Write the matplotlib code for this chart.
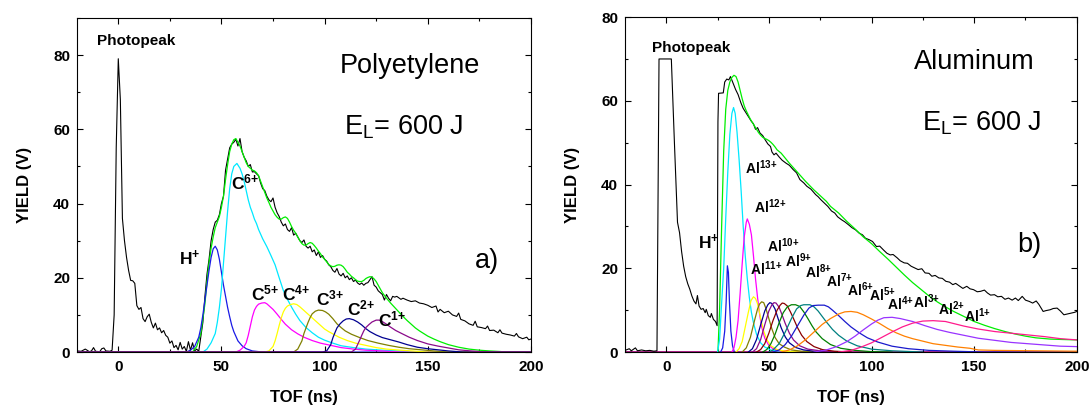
import matplotlib
matplotlib.use('Agg')
import matplotlib.pyplot as plt
from matplotlib.ticker import MultipleLocator

plt.rcParams['font.family'] = ['Liberation Sans', 'DejaVu Sans']
plt.rcParams['mathtext.fontset'] = 'custom'
plt.rcParams['mathtext.rm'] = 'Liberation Sans'
plt.rcParams['mathtext.bf'] = 'Liberation Sans:bold'
plt.rcParams['mathtext.it'] = 'Liberation Sans:italic'

# ---------------- panel a) polyetylene : (TOF ns, yield V)
poly_exp = [(-20, 0.3), (-18, 0.2), (-16, 0.8), (-14, 0.1), (-13, 0.3), (-12, 1.2), (-11, 0.2), (-9, 0.1),
            (-8, 0.9), (-7, 1.1), (-6, 0.3), (-4, 0.2), (-3, 0.5), (-2, 10), (-1, 55), (0, 79), (1, 68),
            (2, 36), (3, 30), (4, 25.5), (5, 22), (6, 19.3), (7, 19.2), (8, 18.5), (9, 12.5), (10, 11.5),
            (11, 12), (12, 9), (13, 8.2), (14, 9.5), (15, 10.2), (16, 8), (17, 6.5), (18, 7.8), (19, 6),
            (20, 6.5), (21, 5.2), (22, 5.8), (23, 4.5), (24, 4), (25, 2.4), (26, 3), (27, 1.2), (28, 1.8),
            (29, 0.6), (30, 2.6), (31, 0.8), (32, 1.5), (33, 0.2), (34, 2.8), (35, 0.5), (36, 2.5), (37, 0.3),
            (38, 0.8), (39, 0.2), (40, 4), (41, 8), (42, 15), (43, 21), (44, 25), (45, 30), (46, 33), (47, 35),
            (48, 35.5), (49, 37), (50, 40), (51, 42), (52, 49), (53, 52), (54, 55), (55, 56), (56, 56.5),
            (57, 57.3), (58, 55.5), (59, 57.5), (60, 54), (61, 52.5), (62, 51.5), (63, 50), (64, 50.5),
            (65, 48.5), (66, 48.6), (67, 48), (68, 47.5), (69, 45.5), (70, 44), (71, 43.5), (72, 42), (73, 41),
            (74, 40.5), (75, 41.5), (76, 39), (77, 37.5), (78, 36.5), (79, 35), (80, 34), (81, 34.5), (82, 33),
            (83, 32.5), (84, 33.5), (85, 31.5), (86, 32), (87, 31), (88, 30), (89, 29.5), (90, 30.2), (91, 28.5),
            (92, 28), (93, 28.5), (94, 27), (95, 27.5), (96, 26), (97, 27), (98, 25.5), (99, 26), (100, 25),
            (101, 24.5), (102, 23.5), (103, 23), (104, 22), (105, 21.5), (106, 22.5), (107, 21), (108, 20.5),
            (109, 21.2), (110, 20), (111, 20.5), (112, 19.5), (113, 20), (114, 19), (115, 19.4), (116, 18.6),
            (117, 18.2), (118, 18.6), (119, 18), (120, 18.5), (121, 18.7), (122, 19.5), (123, 20.3), (124, 18),
            (125, 17.5), (126, 16.5), (127, 16), (128, 15.5), (129, 14), (130, 15.5), (131, 14.5), (132, 13.8),
            (133, 15), (134, 14.8), (135, 15), (136, 14.6), (137, 14.2), (138, 14.5), (140, 14), (142, 13.6),
            (144, 13.8), (146, 13.2), (148, 13), (150, 12.6), (152, 12), (154, 12.4), (155, 10.8), (156, 11.5),
            (158, 10.6), (160, 11), (162, 10), (164, 9.6), (165, 10.5), (166, 8.8), (168, 8.4), (170, 7.6),
            (172, 7.2), (173, 8.3), (174, 6.8), (176, 6.6), (178, 6.3), (179, 7), (180, 5.8), (182, 5.9),
            (184, 5.2), (185, 6), (186, 5.1), (188, 4.8), (190, 4.6), (192, 4.3), (193, 5), (194, 4.1),
            (196, 3.6), (198, 4), (199, 3.3), (200, 3.5)]

poly_fit = [(36, 0), (38, 1.5), (40, 5), (42, 13), (43, 19), (44, 24), (45, 28), (46, 31), (47, 33.5), (48, 35),
            (49, 36.5), (50, 39), (51, 42), (52, 46.5), (53, 50.5), (54, 54), (55, 56), (56, 57.2), (57, 57.5),
            (58, 56.5), (59, 55.5), (60, 54), (61, 52.5), (62, 51), (63, 50), (64, 49.5), (65, 49), (66, 48.8),
            (67, 48.3), (68, 47.5), (69, 46), (70, 44.5), (71, 43), (72, 41.5), (73, 40.3), (74, 39), (75, 38),
            (76, 37), (77, 36.3), (78, 35.8), (79, 35.8), (80, 36.2), (81, 36.4), (82, 36), (83, 35), (84, 33.8),
            (85, 32.8), (86, 32), (87, 31), (88, 30), (89, 29.2), (90, 28.8), (91, 28.8), (92, 29.2), (93, 29.5),
            (94, 29.3), (95, 28.7), (96, 28), (97, 27.2), (98, 26.5), (99, 25.6), (100, 25), (101, 24.3),
            (102, 23.6), (103, 23.2), (104, 23), (105, 23.1), (106, 23.4), (107, 23.5), (108, 23.4), (109, 23),
            (110, 22.3), (111, 21.5), (112, 21), (113, 20.4), (114, 20), (115, 19.5), (116, 19.1), (117, 19),
            (118, 19), (119, 19.3), (120, 19.8), (121, 20.1), (122, 20.3), (123, 20.2), (124, 19.7), (125, 19),
            (126, 18), (127, 17), (128, 16), (130, 14.5), (132, 13.2), (134, 12), (136, 10.8), (138, 9.6),
            (140, 8.5), (142, 7.5), (144, 6.5), (146, 5.7), (148, 5), (150, 4.3), (153, 3.5), (156, 2.8),
            (160, 2), (165, 1.3), (170, 0.8), (175, 0.5), (180, 0.3), (185, 0.15), (188, 0)]

poly_h = [(-20, 0), (33, 0), (35, 0.5), (37, 1.5), (39, 4), (40, 6.5), (41, 10), (42, 14), (43, 18), (44, 22),
          (45, 25.5), (46, 27.8), (47, 28.5), (48, 27.5), (49, 25), (50, 21.5), (51, 18), (52, 15), (53, 12),
          (54, 9.5), (55, 7.2), (56, 5.5), (58, 3), (60, 1.7), (62, 0.9), (65, 0.3), (70, 0), (200, 0)]
poly_c6 = [(-20, 0), (41, 0), (43, 0.8), (45, 2.5), (47, 5), (48, 8), (49, 12), (50, 17), (51, 24), (52, 31),
           (53, 38), (54, 44), (55, 48), (56, 50), (57.5, 50.8), (59, 49.5), (60, 48), (61, 46), (62, 43.5),
           (63, 41), (64, 39), (65, 37.5), (66, 35.8), (67, 34.6), (68, 33), (70, 30.5), (72, 28.4), (74, 26),
           (76, 23.5), (78, 20), (80, 16.6), (82, 14.2), (84, 12.1), (86, 10.2), (88, 8.5), (91, 6.6), (94, 5.2),
           (97, 4), (100, 3.2), (104, 2.4), (108, 1.7), (114, 1.2), (120, 0.8), (128, 0.5), (136, 0.3), (145, 0),
           (200, 0)]
poly_c5 = [(-20, 0), (57, 0), (59, 0.5), (61, 1.5), (62, 2.5), (63, 4.5), (64, 7), (65, 9.5), (66, 11.3),
           (67, 12.3), (68, 12.9), (69.5, 13.2), (71, 13.3), (72, 13), (73, 12.5), (75, 11.5), (77, 10.2),
           (79, 8.8), (81, 7.5), (84, 6), (87, 4.9), (90, 4), (94, 3.1), (98, 2.4), (103, 1.8), (108, 1.2),
           (114, 0.8), (120, 0.5), (128, 0.3), (136, 0), (200, 0)]
poly_c4 = [(-20, 0), (71, 0), (73, 0.3), (75, 1.5), (76, 3), (77, 5), (78, 7.2), (79, 9.2), (80, 10.8), (81, 11.8),
           (82, 12.4), (83.5, 12.8), (85, 13), (86.5, 12.8), (88, 12.2), (90, 11.2), (92, 10.2), (94, 9.2),
           (96, 8.2), (98, 7.2), (100, 6.2), (102, 5.5), (104, 4.9), (107, 4), (111, 3.1), (115, 2.4), (120, 1.8),
           (125, 1.2), (130, 0.8), (137, 0.5), (145, 0.2), (150, 0), (200, 0)]
poly_c3 = [(-20, 0), (85, 0), (87, 0.8), (89, 3), (90, 5), (91, 6.5), (92, 8), (93, 9.3), (94, 10.3), (95.5, 11),
           (97, 11.3), (99, 11.2), (100.5, 10.8), (102, 10.2), (104, 9), (106, 7.6), (108, 6.6), (110, 5.7),
           (113, 4.8), (117, 3.9), (121, 3.1), (126, 2.4), (131, 1.8), (136, 1.3), (141, 0.9), (147, 0.6),
           (153, 0.3), (160, 0), (200, 0)]
poly_c2 = [(-20, 0), (99, 0), (101, 0.3), (103, 2), (104, 3.8), (105, 5.2), (106, 6.5), (107.5, 7.6), (109, 8.4),
           (110.5, 8.9), (112, 9), (114, 8.7), (116, 8.1), (118, 7.3), (120, 6.3), (122, 5.5), (125, 4.6),
           (128, 3.9), (132, 3.3), (136, 2.7), (140, 2), (145, 1.3), (150, 0.9), (155, 0.6), (160, 0.3),
           (167, 0), (200, 0)]
poly_c1 = [(-20, 0), (113, 0), (115, 0.8), (117, 3.2), (118, 4.5), (119, 5.7), (120, 6.6), (121.5, 7.4),
           (123, 8.1), (125, 8.6), (126.5, 8.6), (128, 8.2), (130, 7.5), (132, 6.7), (134.5, 5.8), (137, 5.1),
           (141, 4), (145, 3.1), (150, 2.2), (155, 1.6), (160, 1.1), (165, 0.6), (170, 0.35), (178, 0), (200, 0)]

poly_parts = [poly_h, poly_c6, poly_c5, poly_c4, poly_c3, poly_c2, poly_c1]
poly_colors = ['#1a1ae6', '#00e8ff', '#ff00ff', '#ffff00', '#808000', '#000090', '#8a0a8a']
poly_labels = [r'$\mathbf{H^{+}}$', r'$\mathbf{C^{6\!+}}$', r'$\mathbf{C^{5\!+}}$', r'$\mathbf{C^{4\!+}}$',
               r'$\mathbf{C^{3\!+}}$', r'$\mathbf{C^{2\!+}}$', r'$\mathbf{C^{1\!+}}$']
poly_label_xy = [(29.5, 23.4), (54.8, 43.7), (64.4, 14), (79.5, 14), (96, 12.7), (110.8, 10), (126, 7)]

# ---------------- panel b) aluminum
alu_exp = [(-20, 0.4), (-18, 0.8), (-17, 0.3), (-15, 1.0), (-14, 0.3), (-12, 0.5), (-10, 0.3), (-8, 0.4),
           (-6, 0.2), (-4.5, 0.3), (-4, 35), (-3.5, 70), (2.5, 70), (4, 50), (5.5, 31), (6.5, 28.5), (7.5, 24),
           (8.5, 20.5), (9.5, 18), (10.5, 16.3), (11.5, 15), (12.5, 13.4), (13.5, 12.2), (14.5, 11.5),
           (15.2, 13.5), (16, 11), (17, 10.2), (18, 10.4), (19, 9.4), (19.5, 10.2), (20.5, 8.7), (21.5, 8.3),
           (22, 9.2), (23, 7.8), (24, 7.3), (24.8, 6.3), (25.2, 55), (25.5, 61.8), (27.8, 61.9), (28.5, 64.5),
           (29.5, 65.2), (30.5, 65), (31.3, 65.8), (32.5, 64.3), (33.8, 62.7), (35, 61.5), (36.4, 59.5),
           (37.5, 58.2), (38.9, 57.1), (40, 56.2), (41.5, 55.1), (42.5, 54.5), (43.5, 53.2), (44.5, 53.6),
           (45.7, 52.3), (47, 51.7), (48.2, 50.7), (49.5, 49.7), (50.8, 49.1), (51.5, 47.8), (52.5, 47.1),
           (53.5, 47.5), (55, 46.6), (56.5, 45.8), (58.4, 45.1), (60, 44.6), (61.8, 43.6), (63.5, 42.8),
           (65.1, 41.2), (67, 40.4), (68.5, 39.6), (70.5, 38.9), (72.8, 37.6), (74, 37.1), (75.3, 36.4),
           (77, 35.6), (78.7, 34.8), (80.5, 33.7), (82.1, 33.2), (83.5, 32.3), (85.4, 31.6), (87, 31.1),
           (88.8, 30.4), (90.5, 29.7), (92.2, 29.2), (94, 28.4), (95.6, 28), (97, 27.2), (99, 26.8),
           (100.5, 26.4), (102.4, 25.2), (104, 25.3), (105.8, 24.4), (107.5, 23.6), (109.1, 23.2),
           (110.5, 23.3), (112.5, 22.5), (114, 21.8), (115.9, 21.3), (117.5, 21.2), (119.3, 20.5), (121, 20.1),
           (122.7, 19.7), (124.5, 19.9), (126.1, 18.9), (128, 18.8), (129.4, 18.1), (131, 18.3), (132.8, 17.7),
           (134.5, 17.6), (136.2, 16.9), (138, 16.7), (139.6, 16.1), (141, 16.4), (143, 15.7), (144.5, 15.2),
           (146.4, 15.7), (148, 15.1), (149.7, 14.9), (151.5, 14.4), (153.1, 14.5), (155, 14.8), (156.5, 14.1),
           (158, 13.6), (159.9, 13.7), (161.5, 13.2), (163.3, 13.3), (165, 12.6), (166.7, 12.9), (168.5, 12.4),
           (170.1, 12.9), (171.5, 12.3), (173.4, 13.3), (175, 12.4), (176.8, 12.1), (178.5, 11.7),
           (180.2, 12.2), (181.5, 11.4), (183.6, 9.7), (185, 9.9), (187, 10.1), (188.5, 10.4), (190.4, 10.5),
           (192, 9.8), (193.7, 8.9), (195.5, 9.1), (197.1, 9.3), (199, 9.5), (200, 9.7)]

alu_fit = [(25.2, 0), (26, 10), (27, 30), (28, 48), (29, 58), (30, 62.5), (31, 64.5), (32, 65.6), (33, 66.1),
           (34, 65.8), (35, 64.5), (36, 62.5), (37, 60.5), (38, 58.8), (39, 57.6), (40, 56.6), (41, 55.6),
           (42, 54.8), (43, 54), (44, 53.2), (45, 52.4), (46, 51.8), (47, 51.3), (48, 51), (49, 50.8), (50, 50.5),
           (51, 50.1), (52, 49.6), (53, 49), (54, 48.3), (56, 47.5), (58, 46.3), (60, 45.1), (62, 44),
           (64, 42.9), (66, 41.8), (68, 40.7), (70, 39.7), (72, 38.7), (74, 37.8), (76, 36.9), (78, 36),
           (80, 34.8), (84, 33.2), (88, 31.2), (92, 29.4), (96, 27.5), (100, 25.9), (104, 24), (108, 22.2),
           (112, 20.3), (116, 18.4), (120, 16.6), (124, 15), (128, 13.4), (132, 12), (136, 10.8), (140, 9.7),
           (145, 8.5), (150, 7.3), (155, 6.4), (160, 5.6), (165, 4.9), (170, 4.3), (175, 3.8), (180, 3.4),
           (187, 3.1), (193, 3), (200, 2.9)]

alu_h = [(26.5, 0), (27.5, 1), (28.5, 5), (29.2, 12), (29.8, 20.6), (30.3, 19), (30.8, 12), (31.5, 5),
         (32.3, 1.5), (33.2, 0)]
alu_13 = [(25, 0), (26, 3), (26.8, 10), (28, 20), (29, 32), (30, 43), (31, 52), (32, 57), (32.8, 58.4),
          (33.6, 57), (34.5, 52.5), (35.5, 46), (36.5, 38.5), (37.5, 30), (38.5, 23), (39.5, 17.5), (40.5, 13),
          (41.5, 9.5), (42.5, 7), (44, 4.2), (46, 2.2), (48, 1.2), (51, 0.5), (55, 0.2), (60, 0)]
alu_12 = [(32, 0), (33, 1), (34, 3.5), (35, 7.5), (36, 14), (37, 21), (38, 27.5), (39, 31), (39.5, 31.8),
          (40.5, 30.5), (41.5, 28), (42.5, 23), (43.5, 17.5), (44.5, 13), (45.5, 9), (46.5, 6), (48, 3.3),
          (50, 1.6), (52, 0.8), (55, 0.3), (60, 0)]
alu_11 = [(34, 0), (35.5, 0.8), (37, 2.5), (38.5, 6), (40, 9.5), (41.3, 12.3), (42.5, 13.2), (43.5, 12.8),
          (44.5, 11.5), (45.5, 9.3), (46.5, 7), (47.5, 5), (49, 3), (51, 1.5), (54, 0.6), (58, 0.2), (65, 0)]
alu_10 = [(37, 0), (39, 1), (41, 3.5), (43, 7.5), (44.5, 10.3), (45.5, 11.5), (46.5, 12), (47.5, 11.8),
          (48.5, 10.5), (50, 8), (51.5, 5.5), (53, 3.5), (55, 2), (57.5, 1.2), (61, 0.5), (66, 0.2), (72, 0)]
alu_9 = [(40, 0), (42, 0.8), (44, 3), (46, 6.5), (48, 9.8), (49.5, 11.3), (50.5, 11.8), (51.5, 11.6), (53, 10.3),
         (54.5, 8), (56, 5.8), (58, 3.6), (60, 2.2), (63, 1.1), (67, 0.5), (72, 0.2), (78, 0)]
alu_8 = [(42, 0), (44, 0.8), (46, 3), (48, 6.5), (50, 9.8), (51.5, 11.3), (52.5, 11.8), (53.5, 11.7), (55, 10.7),
         (56.5, 8.8), (58, 6.8), (60, 4.5), (62, 2.9), (65, 1.5), (69, 0.7), (75, 0.3), (82, 0)]
alu_7 = [(44, 0), (46, 0.6), (48, 2), (50, 4.5), (52, 7.5), (54, 10), (55.5, 11.2), (56.5, 11.7), (57.5, 11.6),
         (59, 11), (60.5, 9.6), (62, 8), (64, 5.8), (66, 4), (68.5, 2.5), (72, 1.3), (76, 0.6), (82, 0.2), (90, 0)]
alu_6 = [(47, 0), (49, 0.6), (51, 2), (53, 4.2), (55, 7), (57, 9.4), (59, 10.8), (61, 11.3), (63, 11.3),
         (65, 10.9), (67, 9.6), (69, 8), (71, 6.3), (73, 4.8), (76, 3.2), (80, 1.8), (85, 0.9), (92, 0.4),
         (100, 0.1), (110, 0)]
alu_5 = [(50, 0), (52, 0.5), (55, 2), (58, 4.8), (61, 8), (63.5, 10.3), (65.5, 11.1), (67, 11.3), (70, 11.3),
         (72, 10.8), (74, 9.8), (76, 8.5), (78, 7.2), (81, 5.4), (84, 4), (88, 2.6), (93, 1.5), (100, 0.7),
         (110, 0.3), (125, 0)]
alu_4 = [(52, 0), (55, 0.5), (58, 1.8), (61, 3.8), (64, 6.3), (67, 8.8), (69.5, 10.5), (71.5, 11.1), (74, 11.2),
         (77, 11.2), (79, 10.8), (81, 10), (84, 8.7), (87, 7.3), (90, 6), (94, 4.6), (98, 3.4), (103, 2.4),
         (110, 1.4), (118, 0.8), (128, 0.4), (140, 0.2), (155, 0), (200, 0)]
alu_3 = [(56, 0), (60, 0.5), (64, 1.5), (68, 3), (72, 4.8), (76, 6.6), (80, 8), (84, 9.1), (87, 9.6), (90, 9.7),
         (93, 9.5), (96, 8.9), (100, 7.9), (104, 6.8), (108, 5.6), (112, 4.6), (116, 3.8), (120, 3.2),
         (125, 2.6), (130, 2), (136, 1.6), (142, 1.2), (148, 0.9), (152, 0.5), (160, 0.4), (180, 0.3),
         (200, 0.2)]
alu_2 = [(72, 0), (78, 0.5), (83, 1.3), (88, 2.5), (92, 3.8), (96, 5.3), (100, 6.7), (103, 7.6), (106, 8.2),
         (110, 8.3), (114, 8), (120, 7.3), (126, 6.3), (132, 5.4), (138, 4.7), (145, 4), (152, 3.3), (160, 2.8),
         (168, 2.3), (176, 2), (184, 1.7), (192, 1.4), (200, 1.3)]
alu_1 = [(84, 0), (90, 0.4), (95, 1.2), (100, 2.2), (105, 3.5), (110, 4.8), (115, 6), (120, 6.9), (125, 7.4),
         (130, 7.5), (136, 7.3), (145, 6.2), (152, 5.5), (160, 4.9), (168, 4.5), (176, 4.1), (184, 3.7),
         (192, 3.2), (200, 2.9)]

alu_parts = [alu_h, alu_13, alu_12, alu_11, alu_10, alu_9, alu_8, alu_7, alu_6, alu_5, alu_4, alu_3, alu_2, alu_1]
alu_colors = ['#1a1ae6', '#00e8ff', '#ff00ff', '#ffff00', '#808000', '#000090', '#8a0a8a', '#8b0000',
              '#008000', '#008080', '#1a1acc', '#ff8000', '#9933ff', '#ff1a8c']
alu_labels = [r'$\mathbf{H^{+}}$'] + [r'$\mathbf{Al^{%d\!+}}$' % q for q in range(13, 0, -1)]
alu_label_xy = [(15.6, 24.7), (38.4, 42.5), (42.7, 33.1), (40.6, 18.4), (49.1, 23.8), (58.1, 20.4),
                (67.8, 17.6), (78.0, 15.6), (88.0, 13.4), (99.0, 12.2), (107.4, 10.0), (120.4, 10.6),
                (132.4, 8.8), (145.0, 7.2)]


def unzip(pts):
    return [p[0] for p in pts], [p[1] for p in pts]


def style_axes(ax, ymax):
    ax.set_xlim(-20, 200)
    ax.set_ylim(0, ymax)
    ax.xaxis.set_major_locator(MultipleLocator(50))
    ax.xaxis.set_minor_locator(MultipleLocator(25))
    ax.yaxis.set_major_locator(MultipleLocator(20))
    ax.yaxis.set_minor_locator(MultipleLocator(10))
    ax.tick_params(which='both', direction='in', top=True, right=True, width=0.8)
    ax.tick_params(which='major', length=4.5, labelsize=11)
    ax.tick_params(which='minor', length=2.5)
    ax.tick_params(axis='x', pad=6)
    ax.tick_params(axis='y', pad=5)
    for lbl in ax.get_xticklabels() + ax.get_yticklabels():
        lbl.set_fontweight('bold')
    ax.set_xlabel('TOF (ns)', fontsize=12, fontweight='bold', labelpad=11)
    ax.set_ylabel('YIELD (V)', fontsize=12, fontweight='bold', labelpad=15)


fig = plt.figure(figsize=(10.91, 4.07), dpi=100)
ax1 = fig.add_axes([0.0706, 0.135, 0.416, 0.821])
ax2 = fig.add_axes([0.573, 0.135, 0.414, 0.823])

# panel a
ax1.plot(*unzip(poly_exp), color='black', lw=0.8)
ax1.plot(*unzip(poly_fit), color='#00ee00', lw=0.9)
for pts, col in zip(poly_parts, poly_colors):
    ax1.plot(*unzip(pts), color=col, lw=0.9)
for txt, (x, y) in zip(poly_labels, poly_label_xy):
    ax1.text(x, y, txt, fontsize=12.5, ha='left', va='baseline')
ax1.text(-10.4, 82.7, 'Photopeak', fontsize=11, fontweight='bold', ha='left', va='baseline')
ax1.text(107.5, 75.1, 'Polyetylene', fontsize=19.5, ha='left', va='baseline')
ax1.text(109.5, 58.5, r'E$_\mathregular{L}$= 600 J', fontsize=19.5, ha='left', va='baseline')
ax1.text(172.9, 22.6, 'a)', fontsize=19.5, ha='left', va='baseline')
style_axes(ax1, 90)

# panel b
ax2.axhline(0, color='#b0208a', lw=1.4, zorder=1)
ax2.plot(*unzip(alu_exp), color='black', lw=0.8)
ax2.plot(*unzip(alu_fit), color='#00ee00', lw=0.9)
for pts, col in zip(alu_parts, alu_colors):
    ax2.plot(*unzip(pts), color=col, lw=0.9)
for i, (txt, (x, y)) in enumerate(zip(alu_labels, alu_label_xy)):
    ax2.text(x, y, txt, fontsize=12.5 if i == 0 else 10, ha='left', va='baseline')
ax2.text(-7, 71.7, 'Photopeak', fontsize=11, fontweight='bold', ha='left', va='baseline')
ax2.text(120.6, 67.7, 'Aluminum', fontsize=19.5, ha='left', va='baseline')
ax2.text(124.8, 53, r'E$_\mathregular{L}$= 600 J', fontsize=19.5, ha='left', va='baseline')
ax2.text(171.1, 23.9, 'b)', fontsize=19.5, ha='left', va='baseline')
style_axes(ax2, 80)

fig.savefig('out.png', dpi=100)
